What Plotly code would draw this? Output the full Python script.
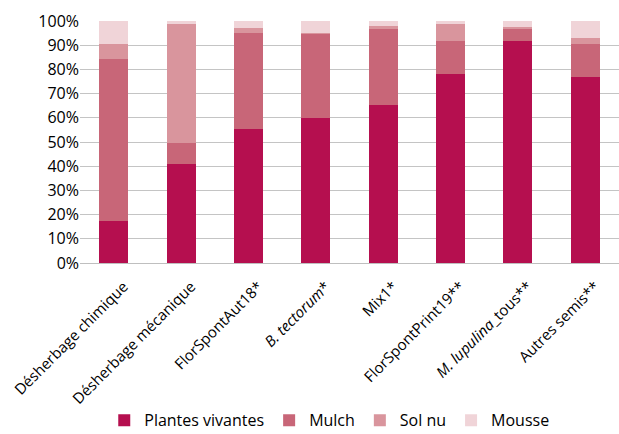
import plotly.graph_objects as go

categories = ["Désherbage chimique", "Désherbage mécanique", "FlorSpontAut18*",
              "<i>B. tectorum</i>*", "Mix1*", "FlorSpontPrint19**",
              "<i>M. lupulina</i>_tous**", "Autres semis**"]
plantes = [17.2, 40.8, 55.2, 60.0, 65.2, 78.0, 91.6, 76.9]
mulch = [67.0, 8.8, 39.7, 34.9, 31.9, 13.6, 5.2, 13.5]
sol_nu = [6.2, 49.0, 2.1, 0.3, 0.8, 7.0, 0.9, 2.7]
mousse = [9.6, 1.4, 3.0, 4.8, 2.1, 1.4, 2.3, 6.9]

series = [("Plantes vivantes", plantes, "#B50F4F"),
          ("Mulch", mulch, "#C86678"),
          ("Sol nu", sol_nu, "#D9959D"),
          ("Mousse", mousse, "#F0D4D8")]

fig = go.Figure()
for name, vals, col in series:
    fig.add_trace(go.Bar(x=categories, y=vals, name=name, marker_color=col,
                         marker_line_width=0))

font = "Open Sans, DejaVu Sans, sans-serif"
fig.update_layout(
    barmode="stack",
    width=619, height=434,
    margin=dict(l=80, r=0, t=21, b=171, autoexpand=False),
    paper_bgcolor="white", plot_bgcolor="white",
    bargap=0.57,
    font=dict(family=font, size=15, color="#000000"),
    legend=dict(orientation="h", x=0.045, xanchor="left", y=-0.65, yanchor="middle",
                font=dict(size=16), traceorder="normal", itemwidth=30),
    xaxis=dict(tickangle=-45, showgrid=False, showline=True, linecolor="#BFBFBF",
               linewidth=1, ticks="", tickfont=dict(size=15), automargin=False,
               ticklabelshift=10, ticklabelstandoff=8),
    yaxis=dict(range=[0, 100], dtick=10, ticksuffix="%", showgrid=True,
               gridcolor="#C4C4C4", gridwidth=1, zeroline=False,
               tickfont=dict(size=16), ticks="", ticklen=0, automargin=False),
)

fig.write_html("out.html", config={"displayModeBar": False},
               post_script="document.body.style.margin='0';document.body.style.overflow='hidden';")
